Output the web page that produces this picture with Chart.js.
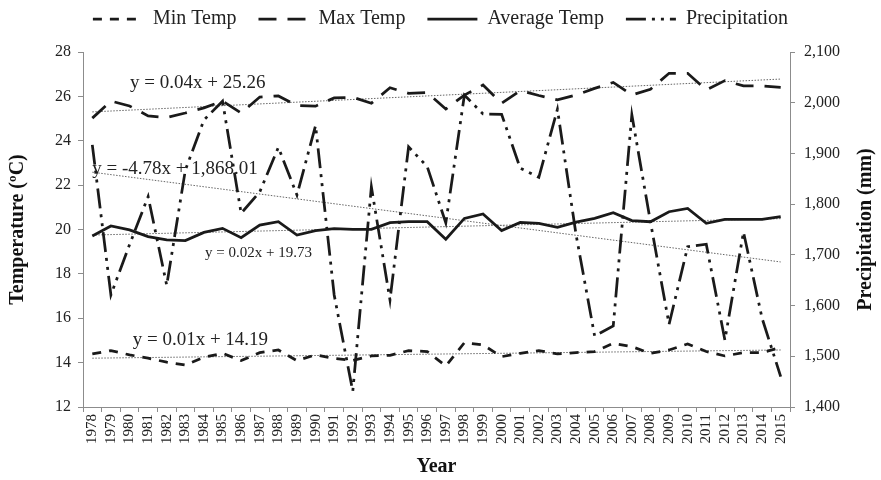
<!DOCTYPE html>
<html>
<head>
<meta charset="utf-8">
<script src="https://cdn.jsdelivr.net/npm/chart.js@4.4.1/dist/chart.umd.min.js"></script>
<style>
  html, body { margin: 0; padding: 0; background: #fff; }
  #wrap { width: 881px; height: 480px; }
</style>
</head>
<body>
<div id="wrap"><canvas id="climateChart" width="881" height="480"></canvas></div>
<script>
const years = ["1978","1979","1980","1981","1982","1983","1984","1985","1986","1987",
               "1988","1989","1990","1991","1992","1993","1994","1995","1996","1997",
               "1998","1999","2000","2001","2002","2003","2004","2005","2006","2007",
               "2008","2009","2010","2011","2012","2013","2014","2015"];

const minTemp = [14.39,14.54,14.35,14.20,14.02,13.89,14.24,14.42,14.09,14.45,
                 14.57,14.09,14.35,14.19,14.10,14.30,14.33,14.54,14.50,13.85,
                 14.90,14.80,14.27,14.42,14.54,14.39,14.45,14.50,14.87,14.72,
                 14.42,14.57,14.84,14.50,14.30,14.45,14.45,14.69];

const maxTemp = [25.02,25.79,25.57,25.12,25.05,25.25,25.48,25.79,25.25,25.97,
                 26.02,25.59,25.56,25.93,25.96,25.69,26.39,26.14,26.17,25.43,
                 26.06,26.51,25.69,26.26,26.04,25.84,26.06,26.36,26.63,26.06,
                 26.32,27.04,27.04,26.29,26.71,26.47,26.47,26.41];

const avgTemp = [19.71,20.16,19.98,19.68,19.53,19.50,19.87,20.05,19.63,20.20,
                 20.35,19.75,19.95,20.04,20.01,20.01,20.31,20.35,20.35,19.56,
                 20.50,20.70,19.95,20.32,20.28,20.10,20.33,20.50,20.76,20.40,
                 20.35,20.80,20.95,20.28,20.46,20.46,20.46,20.58];

const precipitation = [1917,1621,1720,1815,1640,1867,1966,2003,1782,1824,
                       1912,1818,1955,1621,1431,1834,1611,1913,1874,1763,
                       2015,1978,1977,1871,1853,1987,1740,1540,1560,1976,
                       1765,1563,1716,1721,1532,1745,1575,1460];

// trendline values at first and last year
const maxTrend = [25.30, 26.78];
const avgTrend = [19.75, 20.49];
const minTrend = [14.20, 14.57];
const precipTrend = [1863, 1686];

const trendEquations = ["y = 0.04x + 25.26", "y = -4.78x + 1,868.01", "y = 0.02x + 19.73", "y = 0.01x + 14.19"];

const serif = "'Liberation Serif', 'Times New Roman', serif";
const ink = "#1a1a1a";
const axisGrey = "#8c8c8c";

// only the two ends of a trend are known, the line spans the gap
function trendData(ends) {
    const arr = years.map(() => null);
    arr[0] = ends[0];
    arr[arr.length - 1] = ends[1];
    return arr;
}

// where the equations sit: category index + left axis value
const eqPlacement = [
    { text: trendEquations[0], at: 2.03, value: 26.62, size: 19 },
    { text: trendEquations[1], at: 0.0,  value: 22.72, size: 19 },
    { text: trendEquations[2], at: 6.06, value: 18.93, size: 15 },
    { text: trendEquations[3], at: 2.17, value: 15.02, size: 19 }
];

const equationLabels = {
    id: "equationLabels",
    afterDatasetsDraw(chart) {
        const { ctx, scales: { x, y } } = chart;
        ctx.save();
        ctx.fillStyle = "#222";
        ctx.textBaseline = "middle";
        ctx.textAlign = "left";
        eqPlacement.forEach(e => {
            ctx.font = e.size + "px " + serif;
            ctx.fillText(e.text, x.getPixelForValue(e.at), y.getPixelForValue(e.value));
        });
        // right axis title reads bottom-to-top like the left one
        const y1 = chart.scales.y1;
        ctx.font = "bold 20px " + serif;
        ctx.fillStyle = "#111";
        ctx.textAlign = "center";
        ctx.translate(y1.right - 15, (y1.top + y1.bottom) / 2);
        ctx.rotate(-Math.PI / 2);
        ctx.fillText("Precipitation (mm)", 0, 0);
        ctx.restore();
    }
};

// legend gets a fixed strip above the plot
const legendStrip = {
    id: "legendStrip",
    beforeInit(chart) {
        const fit = chart.legend.fit;
        chart.legend.fit = function () {
            fit.call(this);
            this.height = 52;
        };
    },
    afterLayout(chart) {
        chart.legend.top = -13;
    }
};

const ctx = document.getElementById("climateChart").getContext("2d");

const climateChart = new Chart(ctx, {
    type: "line",
    data: {
        labels: years,
        datasets: [
            {
                label: "Min Temp",
                data: minTemp,
                yAxisID: "y",
                borderColor: ink,
                borderWidth: 2.75,
                borderDash: [9, 8],
                pointRadius: 0,
                tension: 0
            },
            {
                label: "Max Temp",
                data: maxTemp,
                yAxisID: "y",
                borderColor: ink,
                borderWidth: 2.75,
                borderDash: [18, 11],
                pointRadius: 0,
                tension: 0
            },
            {
                label: "Average Temp",
                data: avgTemp,
                yAxisID: "y",
                borderColor: ink,
                borderWidth: 2.75,
                pointRadius: 0,
                tension: 0
            },
            {
                label: "Precipitation",
                data: precipitation,
                yAxisID: "y1",
                borderColor: ink,
                borderWidth: 2.75,
                borderDash: [20, 6, 3, 6, 3, 6],
                pointRadius: 0,
                tension: 0
            },
            { label: "maxTrend", data: trendData(maxTrend), yAxisID: "y", borderColor: "#666", borderWidth: 1, borderDash: [1.5, 1.5], pointRadius: 0, spanGaps: true },
            { label: "avgTrend", data: trendData(avgTrend), yAxisID: "y", borderColor: "#666", borderWidth: 1, borderDash: [1.5, 1.5], pointRadius: 0, spanGaps: true },
            { label: "minTrend", data: trendData(minTrend), yAxisID: "y", borderColor: "#666", borderWidth: 1, borderDash: [1.5, 1.5], pointRadius: 0, spanGaps: true },
            { label: "precipTrend", data: trendData(precipTrend), yAxisID: "y1", borderColor: "#666", borderWidth: 1, borderDash: [1.5, 1.5], pointRadius: 0, spanGaps: true }
        ]
    },
    options: {
        responsive: false,
        animation: false,
        devicePixelRatio: 1,
        layout: { padding: 0 },
        plugins: {
            tooltip: { enabled: false },
            legend: {
                position: "top",
                labels: {
                    // only the four series, drawn with their own dash patterns
                    generateLabels(chart) {
                        return chart.data.datasets.slice(0, 4).map((ds, i) => ({
                            text: ds.label,
                            datasetIndex: i,
                            strokeStyle: ds.borderColor,
                            fillStyle: ds.borderColor,
                            lineWidth: ds.borderWidth,
                            lineDash: ds.borderDash || [],
                            lineCap: "butt",
                            pointStyle: "line",
                            fontColor: "#222",
                            hidden: false
                        }));
                    },
                    usePointStyle: true,
                    pointStyle: "line",
                    pointStyleWidth: 50,
                    padding: 22,
                    color: "#222",
                    font: { family: serif, size: 20 }
                }
            }
        },
        scales: {
            x: {
                type: "category",
                offset: true,
                grid: { display: true, drawOnChartArea: false, offset: true, tickLength: 5, color: axisGrey },
                border: { color: axisGrey },
                ticks: {
                    autoSkip: false,
                    minRotation: 90,
                    maxRotation: 90,
                    padding: 2,
                    color: "#222",
                    font: { family: serif, size: 15 }
                },
                title: {
                    display: true,
                    text: "Year",
                    color: "#111",
                    font: { family: serif, size: 20, weight: "bold" },
                    padding: { top: 0, bottom: 1 }
                },
                afterFit(scale) { scale.height = 73; }
            },
            y: {
                position: "left",
                min: 12,
                max: 28,
                grid: { drawOnChartArea: false, tickLength: 5, color: axisGrey },
                border: { color: axisGrey },
                ticks: { stepSize: 2, padding: 7, color: "#222", font: { family: serif, size: 16 } },
                title: {
                    display: true,
                    text: "Temperature (ºC)",
                    color: "#111",
                    font: { family: serif, size: 20, weight: "bold" },
                    padding: { top: 6, bottom: 0 }
                },
                afterFit(scale) { scale.width = 83; }
            },
            y1: {
                position: "right",
                min: 1400,
                max: 2100,
                grid: { drawOnChartArea: false, tickLength: 5, color: axisGrey },
                border: { color: axisGrey },
                ticks: {
                    stepSize: 100,
                    padding: 9,
                    color: "#222",
                    font: { family: serif, size: 16 },
                    callback: v => v.toLocaleString("en-US")
                },
                title: { display: false },
                afterFit(scale) { scale.width = 91; }
            }
        }
    },
    plugins: [legendStrip, equationLabels]
});
</script>
</body>
</html>
